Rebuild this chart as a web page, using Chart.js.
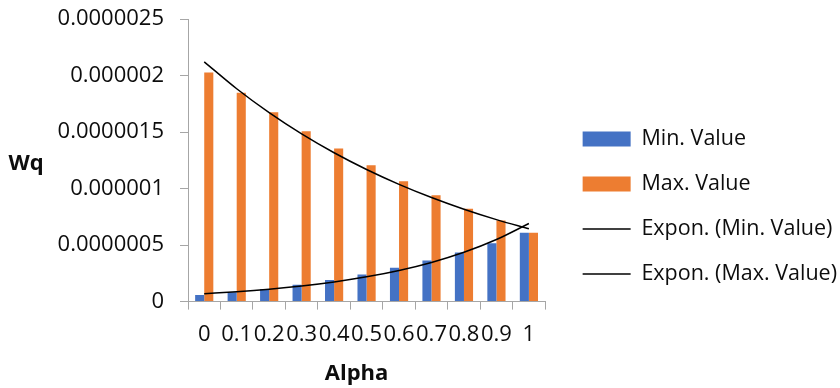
<!DOCTYPE html>
<html>
<head>
<meta charset="utf-8">
<script src="https://cdn.jsdelivr.net/npm/chart.js@4/dist/chart.umd.min.js"></script>
<style>
  html, body { margin: 0; padding: 0; background: #ffffff; }
  canvas { display: block; }
</style>
</head>
<body>
<canvas id="chart" width="840" height="388"></canvas>
<script>
// Alpha categories on the x axis
const categories = ['0', '0.1', '0.2', '0.3', '0.4', '0.5', '0.6', '0.7', '0.8', '0.9', '1'];

// Wq for each alpha
const minValues = [0.000000059, 0.000000083, 0.000000112, 0.000000148, 0.000000192, 0.000000239,
                   0.000000299, 0.000000363, 0.000000434, 0.000000517, 0.000000609];
const maxValues = [0.000002027, 0.000001847, 0.000001676, 0.000001507, 0.000001354, 0.000001206,
                   0.000001064, 0.000000940, 0.000000822, 0.000000718, 0.000000609];

// Labels printed on the value axis, bottom to top
const yTickLabels = ['0', '0.0000005', '0.000001', '0.0000015', '0.000002', '0.0000025'];

const seriesNames = ['Min. Value', 'Max. Value', 'Expon. (Min. Value)', 'Expon. (Max. Value)'];

// Exponential trendline y = a * e^(b x), least squares on ln(y), x = 1..n
function expTrend(values) {
  const n = values.length;
  const xs = values.map((_, i) => i + 1);
  const ls = values.map(v => Math.log(v));
  const mx = xs.reduce((s, v) => s + v, 0) / n;
  const ml = ls.reduce((s, v) => s + v, 0) / n;
  let sxy = 0, sxx = 0;
  for (let i = 0; i < n; i++) {
    sxy += (xs[i] - mx) * (ls[i] - ml);
    sxx += (xs[i] - mx) * (xs[i] - mx);
  }
  const b = sxy / sxx;
  const lnA = ml - b * mx;
  return xs.map(x => Math.exp(lnA + b * x));
}

const FONT = '"Open Sans", "Noto Sans", "DejaVu Sans", sans-serif';
const AXIS_GRAY = '#a6a6a6';
const TEXT = '#0d0d0d';

// Horizontal axis captions
const captions = {
  id: 'captions',
  afterDraw(chart) {
    const ctx = chart.ctx;
    const area = chart.chartArea;
    ctx.save();
    ctx.fillStyle = TEXT;
    ctx.font = 'bold 22px ' + FONT;
    ctx.textAlign = 'center';
    ctx.textBaseline = 'middle';
    ctx.fillText('Wq', 26, (area.top + area.bottom) / 2 + 3);
    ctx.fillText('Alpha', (area.left + area.right) / 2 - 10, 374);
    ctx.restore();
  }
};

new Chart(document.getElementById('chart'), {
  type: 'bar',
  data: {
    labels: categories,
    datasets: [
      { label: seriesNames[0], data: minValues, backgroundColor: '#4472C4', borderWidth: 0, order: 1 },
      { label: seriesNames[1], data: maxValues, backgroundColor: '#ED7D31', borderWidth: 0, order: 1 },
      { type: 'line', label: seriesNames[2], data: expTrend(minValues), borderColor: '#000000',
        borderWidth: 1.5, pointRadius: 0, fill: false, cubicInterpolationMode: 'monotone', order: 0 },
      { type: 'line', label: seriesNames[3], data: expTrend(maxValues), borderColor: '#000000',
        borderWidth: 1.5, pointRadius: 0, fill: false, cubicInterpolationMode: 'monotone', order: 0 }
    ]
  },
  options: {
    responsive: false,
    animation: false,
    devicePixelRatio: 1,
    datasets: {
      bar: { categoryPercentage: 0.56, barPercentage: 1.0 }
    },
    layout: { padding: { left: 58, right: -7, top: 19, bottom: 28 } },
    plugins: {
      tooltip: { enabled: false },
      title: { display: false },
      legend: {
        position: 'right',
        align: 'center',
        maxWidth: 400,
        title: { display: true, text: '', font: { size: 10 }, padding: { top: 22, bottom: 0 } },
        labels: {
          usePointStyle: true,
          pointStyleWidth: 48,
          boxWidth: 48,
          boxHeight: 15,
          padding: 23.5,
          color: TEXT,
          font: { family: FONT, size: 21.5 },
          generateLabels(chart) {
            const items = Chart.defaults.plugins.legend.labels.generateLabels(chart);
            items.forEach(item => {
              const ds = chart.data.datasets[item.datasetIndex];
              if (ds.type === 'line') {
                item.pointStyle = 'line';
                item.strokeStyle = '#000000';
                item.lineWidth = 1.5;
              } else {
                item.pointStyle = 'rect';
                item.lineWidth = 0;
              }
            });
            return items.sort((a, b) => a.datasetIndex - b.datasetIndex);
          }
        }
      }
    },
    scales: {
      x: {
        grid: { display: true, drawOnChartArea: false, offset: true, tickLength: 8, color: AXIS_GRAY },
        border: { display: true, color: AXIS_GRAY, width: 1 },
        ticks: {
          autoSkip: false, maxRotation: 0, minRotation: 0, padding: 12,
          color: TEXT, font: { family: FONT, size: 22 }
        }
      },
      y: {
        min: 0,
        max: 0.0000025,
        grid: { display: true, drawOnChartArea: false, tickLength: 8, color: AXIS_GRAY },
        border: { display: true, color: AXIS_GRAY, width: 1 },
        ticks: {
          stepSize: 0.0000005,
          padding: 16,
          color: TEXT,
          font: { family: FONT, size: 22 },
          callback: (value, index) => yTickLabels[index]
        },
        afterFit(scale) {
          scale.width = 130;
          scale.paddingTop = 0;
          scale.paddingBottom = 0;
        }
      },
      gap: {
        type: 'linear',
        position: 'right',
        display: true,
        grid: { display: false },
        border: { display: false },
        ticks: { display: false },
        afterFit(scale) { scale.width = 14; }
      }
    }
  },
  plugins: [captions]
});
</script>
</body>
</html>
